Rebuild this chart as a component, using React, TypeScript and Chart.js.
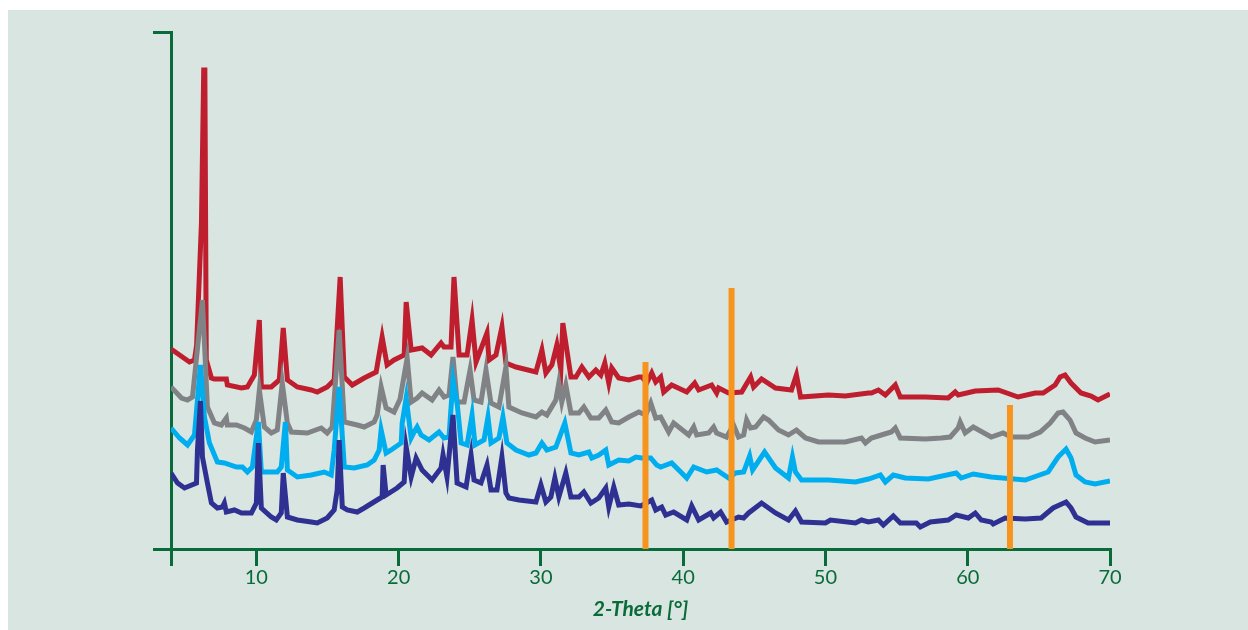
import { useEffect, useRef } from 'react';
import { Chart, registerables } from 'chart.js';

Chart.register(...registerables);

const GREEN = '#0a6b3a';
const BG = '#d9e5e0';

const xTickValues = [4, 10, 20, 30, 40, 50, 60, 70];
const xTitle = '2-Theta [°]';

const redTrace: [number, number][] = [
  [4.0, 200], [5.3, 187], [5.65, 189], [5.8, 204], [6.14, 326], [6.3, 479], [6.38, 479], [6.48, 189], [6.84, 171], [7.05, 170],
  [7.89, 170], [7.96, 164], [8.95, 161], [9.37, 162], [9.86, 174], [10.21, 229], [10.35, 162], [11.05, 162], [11.61, 169], [11.89, 221],
  [12.18, 169], [12.88, 162], [13.86, 159], [14.28, 157], [14.98, 162], [15.47, 169], [15.89, 272], [16.18, 172], [16.74, 164], [17.58, 171],
  [18.42, 177], [18.84, 212], [19.19, 184], [19.68, 189], [20.39, 194], [20.53, 247], [20.88, 199], [21.65, 201], [22.28, 194], [22.98, 206],
  [23.19, 202], [23.68, 202], [23.89, 272], [24.25, 194], [24.81, 194], [25.16, 229], [25.44, 187], [26.21, 216], [26.35, 189], [26.84, 194],
  [27.26, 222], [27.54, 186], [28.25, 182], [29.65, 177], [30.07, 199], [30.35, 176], [30.77, 184], [31.12, 204], [31.4, 179], [31.54, 226],
  [32.11, 172], [32.46, 172], [32.88, 182], [33.37, 172], [33.86, 179], [34.21, 174], [34.49, 186], [34.77, 166], [34.98, 181], [35.47, 171],
  [36.18, 169], [36.88, 172], [37.09, 172], [37.44, 166], [37.79, 176], [38.07, 167], [38.42, 172], [38.63, 157], [39.19, 164], [40.25, 157],
  [40.81, 166], [41.09, 159], [42.0, 164], [42.35, 156], [42.49, 161], [43.19, 156], [44.11, 157], [44.74, 172], [44.95, 162], [45.51, 170],
  [46.49, 161], [47.61, 159], [47.96, 174], [48.25, 152], [50.21, 154], [51.4, 153], [53.02, 156], [53.23, 156], [53.72, 159], [54.21, 154],
  [54.91, 164], [55.26, 152], [57.02, 152], [58.63, 151], [59.12, 157], [59.33, 154], [60.53, 158], [62.14, 159], [63.54, 152], [64.74, 156],
  [65.3, 156], [66.14, 164], [66.49, 172], [66.84, 174], [67.26, 166], [67.96, 156], [68.67, 153], [69.16, 149], [70.0, 155],
];

const grayTrace: [number, number][] = [
  [4.0, 162], [4.74, 151], [5.16, 149], [5.51, 152], [6.21, 249], [6.56, 142], [7.05, 126], [7.54, 124], [7.89, 131], [7.96, 124],
  [8.6, 124], [9.16, 121], [9.65, 117], [10.0, 129], [10.21, 159], [10.56, 122], [11.05, 116], [11.47, 119], [11.82, 166], [12.18, 126],
  [12.46, 117], [13.58, 116], [14.56, 121], [14.98, 116], [15.33, 122], [15.82, 219], [16.18, 127], [17.09, 124], [17.58, 122], [18.28, 127],
  [18.49, 134], [18.77, 162], [19.12, 141], [19.68, 137], [20.1, 150], [20.6, 191], [20.88, 147], [21.3, 151], [21.65, 156], [22.35, 149],
  [22.84, 159], [23.19, 152], [23.54, 154], [23.82, 192], [24.11, 147], [24.6, 147], [25.02, 179], [25.3, 149], [25.79, 147], [26.14, 179],
  [26.49, 146], [27.05, 142], [27.54, 182], [27.75, 142], [28.67, 136], [29.65, 132], [30.07, 137], [30.42, 134], [31.05, 149], [31.26, 166],
  [31.47, 147], [31.75, 164], [32.11, 136], [32.67, 136], [33.02, 142], [33.51, 131], [34.07, 131], [34.56, 139], [34.98, 127], [35.47, 126],
  [36.18, 132], [36.88, 137], [37.37, 134], [37.72, 146], [38.07, 131], [38.42, 132], [38.98, 117], [39.33, 126], [40.39, 114], [40.74, 122],
  [40.95, 114], [41.79, 116], [42.14, 122], [42.35, 116], [43.05, 112], [43.54, 124], [43.89, 112], [44.25, 114], [44.46, 129], [44.74, 121],
  [45.09, 122], [45.65, 132], [46.0, 129], [46.7, 119], [47.4, 114], [47.96, 119], [48.6, 111], [49.51, 107], [51.4, 107], [52.53, 111],
  [52.81, 106], [53.23, 111], [53.93, 114], [54.63, 117], [54.91, 121], [55.26, 111], [57.02, 110], [58.14, 111], [58.77, 112], [59.33, 121],
  [59.47, 127], [59.82, 116], [60.39, 122], [61.65, 112], [62.49, 116], [63.05, 112], [64.25, 112], [65.09, 117], [65.79, 126], [66.35, 136],
  [66.7, 137], [67.19, 129], [67.61, 116], [68.25, 111], [68.95, 107], [70.0, 109],
];

const blueTrace: [number, number][] = [
  [4.0, 121], [4.6, 111], [5.16, 104], [5.65, 114], [6.07, 184], [6.35, 132], [6.7, 106], [7.26, 87], [7.75, 86], [8.6, 82],
  [9.02, 82], [9.37, 77], [9.72, 82], [10.14, 127], [10.35, 77], [11.47, 77], [11.75, 82], [12.04, 127], [12.18, 79], [12.88, 72],
  [13.86, 74], [14.77, 77], [15.26, 74], [15.47, 99], [15.82, 162], [16.18, 82], [16.88, 81], [17.79, 84], [18.28, 89], [18.63, 99],
  [18.77, 119], [19.12, 96], [19.47, 99], [20.18, 106], [20.25, 126], [20.53, 151], [20.88, 111], [21.09, 117], [21.3, 122], [21.58, 114],
  [22.14, 109], [22.84, 117], [23.19, 111], [23.54, 112], [23.82, 169], [24.11, 146], [24.39, 106], [24.81, 104], [25.16, 134], [25.37, 104],
  [26.0, 109], [26.28, 132], [26.49, 106], [27.05, 111], [27.33, 132], [27.61, 106], [28.25, 99], [29.16, 94], [29.65, 96], [30.07, 106],
  [30.42, 99], [31.05, 102], [31.68, 126], [32.11, 96], [32.67, 94], [33.37, 97], [33.58, 91], [34.07, 94], [34.56, 99], [34.77, 84],
  [35.47, 89], [36.18, 88], [36.67, 92], [37.09, 91], [37.72, 91], [38.14, 84], [38.42, 82], [39.19, 86], [40.25, 71], [40.74, 82],
  [41.65, 77], [42.35, 79], [43.19, 71], [43.68, 76], [44.25, 77], [44.67, 93], [44.88, 79], [45.72, 97], [46.49, 81], [47.4, 71],
  [47.68, 92], [47.89, 77], [48.32, 69], [50.21, 69], [52.11, 67], [53.02, 70], [53.86, 74], [54.21, 67], [54.77, 74], [55.61, 71],
  [57.23, 70], [59.19, 76], [59.54, 71], [60.39, 75], [61.65, 72], [64.04, 69], [65.65, 77], [66.35, 92], [66.91, 100], [67.26, 91],
  [67.61, 74], [68.25, 67], [68.95, 65], [70.0, 68],
];

const navyTrace: [number, number][] = [
  [4.0, 76], [4.46, 66], [4.95, 61], [5.79, 66], [5.86, 99], [6.07, 148], [6.21, 92], [6.56, 66], [6.84, 46], [7.26, 41],
  [7.61, 42], [7.75, 46], [7.89, 37], [8.46, 39], [8.95, 36], [9.65, 36], [10.0, 46], [10.14, 106], [10.35, 41], [11.05, 32],
  [11.4, 29], [11.75, 36], [11.89, 76], [12.18, 32], [12.88, 29], [13.86, 27], [14.28, 26], [14.98, 31], [15.47, 39], [15.68, 59],
  [15.82, 109], [16.04, 42], [16.39, 39], [17.09, 37], [17.58, 41], [18.49, 49], [18.84, 52], [18.91, 84], [19.12, 54], [19.89, 61],
  [20.39, 67], [20.53, 102], [20.88, 72], [21.23, 91], [21.65, 79], [22.35, 69], [22.98, 81], [23.12, 94], [23.4, 72], [23.82, 134],
  [24.11, 66], [24.74, 62], [25.09, 94], [25.3, 69], [25.79, 66], [26.21, 84], [26.49, 59], [26.91, 59], [27.26, 92], [27.54, 56],
  [27.75, 51], [28.46, 49], [29.65, 47], [30.0, 64], [30.35, 47], [30.7, 52], [30.98, 71], [31.26, 52], [31.75, 76], [32.11, 52],
  [32.67, 52], [33.02, 57], [33.51, 46], [34.07, 51], [34.56, 61], [34.77, 42], [35.12, 62], [35.47, 44], [36.18, 45], [37.02, 43],
  [37.79, 49], [38.07, 39], [38.49, 42], [38.77, 34], [39.33, 37], [40.25, 29], [40.6, 43], [41.09, 29], [41.93, 36], [42.14, 31],
  [42.63, 37], [43.05, 27], [43.89, 32], [44.25, 31], [44.6, 36], [45.51, 46], [46.49, 36], [47.4, 29], [47.89, 38], [48.32, 27],
  [50.0, 26], [50.35, 29], [52.11, 26], [52.53, 29], [53.02, 27], [53.72, 29], [54.07, 24], [54.77, 33], [55.26, 26], [56.39, 26],
  [56.67, 22], [57.37, 27], [58.63, 29], [59.19, 34], [60.04, 31], [60.53, 36], [60.95, 29], [61.65, 27], [61.79, 25], [62.63, 31],
  [64.04, 30], [65.16, 31], [66.0, 41], [66.91, 47], [67.26, 41], [67.61, 32], [68.46, 26], [70.0, 26],
];

const markerPositions = [37.35, 43.4, 62.97];
const markerHeights = [187, 261, 144];

export default function App() {
  const ref = useRef<HTMLCanvasElement>(null);

  useEffect(() => {
    if (!ref.current) return;
    const toPts = (a: [number, number][]) => a.map(([x, y]) => ({ x, y }));
    const trace = (label: string, data: [number, number][], color: string, order: number) => ({
      label,
      data: toPts(data),
      borderColor: color,
      backgroundColor: color,
      borderWidth: 5,
      pointRadius: 0,
      tension: 0,
      fill: false,
      order,
      borderJoinStyle: 'miter' as const,
      borderCapStyle: 'butt' as const,
    });
    const markers = markerPositions.map((x, i) => ({
      label: 'marker' + i,
      data: [{ x, y: 0 }, { x, y: markerHeights[i] }],
      borderColor: '#f7941d',
      borderWidth: 6,
      pointRadius: 0,
      fill: false,
      order: 0,
      borderCapStyle: 'butt' as const,
    }));

    const chart = new Chart(ref.current, {
      type: 'line',
      data: {
        datasets: [
          ...markers,
          trace('navy', navyTrace, '#2e3192', 1),
          trace('blue', blueTrace, '#00aeef', 2),
          trace('gray', grayTrace, '#808285', 3),
          trace('red', redTrace, '#be1e2d', 4),
        ] as any,
      },
      options: {
        animation: false,
        responsive: false,
        maintainAspectRatio: false,
        layout: { padding: { top: 22, right: 138, left: 0, bottom: 0 } },
        plugins: { legend: { display: false }, tooltip: { enabled: false } },
        scales: {
          x: {
            type: 'linear',
            min: 4,
            max: 70,
            afterBuildTicks: (s: any) => {
              s.ticks = xTickValues.map((v) => ({ value: v }));
            },
            afterFit: (s: any) => {
              s.height = 81;
            },
            grid: {
              drawOnChartArea: false,
              drawTicks: true,
              tickLength: 17,
              tickColor: GREEN,
              tickWidth: 3,
              color: GREEN,
              lineWidth: 3,
            },
            border: { display: true, color: GREEN, width: 3 },
            ticks: {
              color: GREEN,
              font: { family: 'Lato', size: 20 },
              padding: 0,
              autoSkip: false,
              maxRotation: 0,
              callback: (v: any) => (v === 4 ? '' : String(v)),
            },
            title: {
              display: true,
              text: xTitle,
              color: GREEN,
              font: { family: 'Lato', size: 21, weight: 'bold', style: 'italic' },
              padding: { top: 0, bottom: 8 },
            },
          },
          y: {
            type: 'linear',
            min: 0,
            max: 517,
            afterBuildTicks: (s: any) => {
              s.ticks = [{ value: 0 }, { value: 517 }];
            },
            afterFit: (s: any) => {
              s.width = 163;
            },
            grid: {
              drawOnChartArea: false,
              drawTicks: true,
              tickLength: 18,
              tickColor: GREEN,
              tickWidth: 3,
              color: GREEN,
              lineWidth: 3,
            },
            border: { display: true, color: GREEN, width: 3 },
            ticks: { display: false },
          },
        },
      } as any,
    });
    return () => chart.destroy();
  }, []);

  return (
    <div
      style={{
        position: 'absolute',
        left: 8,
        top: 10,
        width: 1240,
        height: 620,
        background: BG,
      }}
    >
      <canvas ref={ref} width={1240} height={620} style={{ display: 'block' }} />
    </div>
  );
}
